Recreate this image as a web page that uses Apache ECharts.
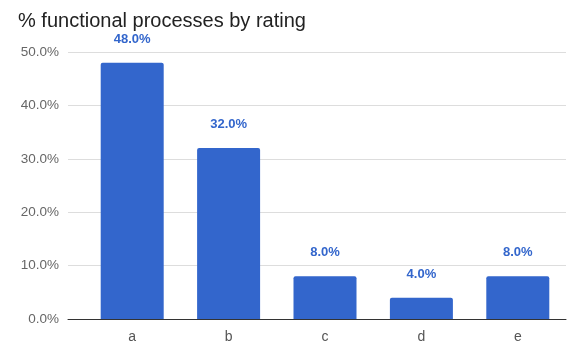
<!DOCTYPE html>
<html>
<head>
<meta charset="utf-8">
<script src="https://cdn.jsdelivr.net/npm/echarts@6/dist/echarts.min.js"></script>
<style>
  html, body { margin: 0; padding: 0; background: #fff; }
  #chart { width: 571px; height: 343px; }
</style>
</head>
<body>
<div id="chart"></div>
<script>
// data
const categories = ['a', 'b', 'c', 'd', 'e']
const shares = [48.0, 32.0, 8.0, 4.0, 8.0]
const yTicks = [0, 10, 20, 30, 40, 50]

const yMin = yTicks[0]
const yMax = yTicks[yTicks.length - 1]
const font = '"Liberation Sans", Arial, sans-serif'

const chart = echarts.init(document.getElementById('chart'))
chart.setOption({
  animation: false,
  title: {
    text: '% functional processes by rating',
    left: 13,
    top: 6,
    textStyle: { fontFamily: font, fontSize: 20, fontWeight: 'normal', color: '#222' }
  },
  grid: [
    // background grid: gridlines + y labels
    { left: 68, right: 5, top: 52, bottom: 24, outerBoundsMode: 'none' },
    // bars
    { left: 84, right: 5, top: 52, bottom: 24, outerBoundsMode: 'none' }
  ],
  xAxis: [{
    gridIndex: 0,
    type: 'value',
    min: 0,
    max: 1,
    axisLabel: { show: false },
    axisTick: { show: false },
    splitLine: { show: false },
    axisLine: { show: true, lineStyle: { color: '#333', width: 1 } }
  }, {
    gridIndex: 1,
    type: 'category',
    data: categories,
    axisLine: { show: false },
    axisTick: { show: false },
    axisLabel: { margin: 11, fontFamily: font, fontSize: 14, color: '#555' }
  }],
  yAxis: [{
    gridIndex: 0,
    type: 'value',
    min: yMin,
    max: yMax,
    interval: 10,
    axisLine: { show: false },
    axisTick: { show: false },
    axisLabel: {
      margin: 9,
      fontFamily: font,
      fontSize: 13.5,
      color: '#666',
      formatter: v => v.toFixed(1) + '%'
    },
    splitLine: { lineStyle: { color: '#ddd', width: 1 } }
  }, {
    gridIndex: 1,
    type: 'value',
    min: yMin,
    max: yMax,
    interval: 10,
    show: false
  }],
  series: [{
    type: 'bar',
    xAxisIndex: 1,
    yAxisIndex: 1,
    data: shares,
    barWidth: 63,
    itemStyle: { color: '#3366cc', borderRadius: [2, 2, 0, 0] },
    label: {
      show: true,
      position: 'top',
      distance: 17,
      fontFamily: font,
      fontSize: 13,
      fontWeight: 'bold',
      color: '#3366cc',
      formatter: p => p.value.toFixed(1) + '%'
    }
  }]
})
</script>
</body>
</html>
